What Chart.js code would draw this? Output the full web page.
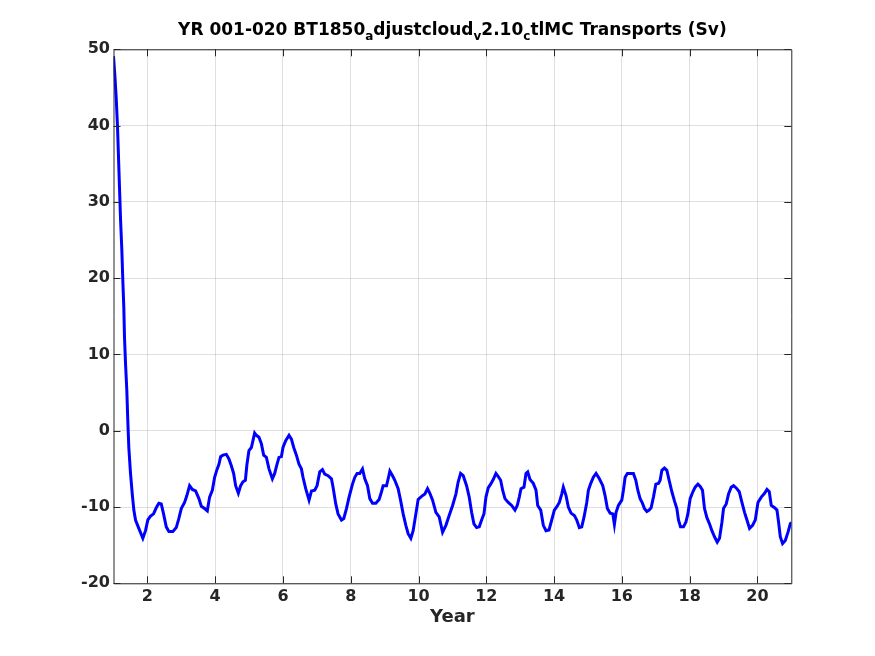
<!DOCTYPE html>
<html>
<head>
<meta charset="utf-8">
<title>MOC transports</title>
<script src="https://cdn.jsdelivr.net/npm/chart.js@4.4.1/dist/chart.umd.min.js"></script>
<style>
  html, body { margin: 0; padding: 0; background: #ffffff; }
  canvas { display: block; }
</style>
</head>
<body>
<canvas id="chart" width="875" height="656"></canvas>
<script>
// Time axis (model years) and transport (Sv)
var years = [
  1.000, 1.040, 1.080, 1.118, 1.148, 1.177, 1.207, 1.245, 1.275, 1.304, 1.325, 1.355, 1.393, 1.422, 1.452, 1.502, 1.552, 1.600, 1.650, 1.747,
  1.866, 1.945, 2.013, 2.093, 2.182, 2.261, 2.338, 2.409, 2.477, 2.557, 2.634, 2.752, 2.852, 2.929,
  3.000, 3.097, 3.165, 3.245, 3.325, 3.422, 3.520, 3.591, 3.688, 3.768, 3.836, 3.916, 3.984,
  4.052, 4.111, 4.161, 4.229, 4.329, 4.406, 4.477, 4.545, 4.604, 4.684, 4.752, 4.820, 4.891, 4.938, 4.997,
  5.068, 5.115, 5.165, 5.216, 5.292, 5.363, 5.431, 5.511, 5.588, 5.688, 5.756, 5.824, 5.883, 5.954,
  6.001, 6.081, 6.179, 6.250, 6.318, 6.397, 6.474, 6.545, 6.592, 6.672, 6.770, 6.841, 6.938,
  7.006, 7.086, 7.165, 7.233, 7.331, 7.431, 7.479, 7.558, 7.626, 7.727, 7.795, 7.874, 7.951,
  8.052, 8.120, 8.188, 8.267, 8.347, 8.415, 8.495, 8.563, 8.643, 8.740, 8.838, 8.908, 8.956,
  9.056, 9.115, 9.154, 9.233, 9.301, 9.399, 9.470, 9.547, 9.626, 9.694, 9.774, 9.842, 9.922, 9.990,
  10.090, 10.188, 10.267, 10.335, 10.415, 10.513, 10.610, 10.710, 10.808, 10.905,
  11.006, 11.103, 11.171, 11.242, 11.319, 11.419, 11.496, 11.567, 11.635, 11.715, 11.792, 11.862, 11.931, 11.990,
  12.057, 12.128, 12.205, 12.285, 12.353, 12.424, 12.483, 12.551, 12.648, 12.749, 12.846, 12.914, 12.973,
  13.024, 13.112, 13.171, 13.222, 13.290, 13.387, 13.467, 13.517, 13.606, 13.683, 13.762, 13.851, 13.931,
  14.008, 14.078, 14.155, 14.226, 14.273, 14.353, 14.421, 14.501, 14.598, 14.669, 14.746, 14.817, 14.885, 14.965,
  15.012, 15.083, 15.160, 15.239, 15.337, 15.437, 15.505, 15.573, 15.653, 15.733, 15.780, 15.830, 15.898, 15.998,
  16.046, 16.096, 16.164, 16.244, 16.341, 16.412, 16.471, 16.539, 16.607, 16.666, 16.737, 16.805, 16.864, 16.932,
  17.003, 17.080, 17.130, 17.180, 17.257, 17.328, 17.396, 17.476, 17.552, 17.623, 17.671, 17.730, 17.818, 17.889, 17.948,
  18.016, 18.096, 18.164, 18.244, 18.312, 18.380, 18.439, 18.510, 18.586, 18.657, 18.734, 18.814, 18.882, 18.953,
  19.000, 19.080, 19.148, 19.227, 19.295, 19.375, 19.464, 19.543, 19.620, 19.691, 19.768, 19.857, 19.937,
  20.016, 20.114, 20.211, 20.282, 20.350, 20.409, 20.507, 20.577, 20.625, 20.675, 20.743, 20.823, 20.903, 20.970, 21.000
];
var transport = [
  49.1, 46.6, 43.6, 39.9, 35.8, 31.9, 27.8, 23.8, 19.7, 16.2, 12.2, 8.8, 5.3, 1.3, -2.2, -5.6, -8.2, -10.4, -11.7, -12.8,
  -14.1, -13.1, -11.7, -11.2, -10.9, -10.1, -9.5, -9.6, -10.9, -12.6, -13.2, -13.2, -12.7, -11.5,
  -10.2, -9.4, -8.5, -7.2, -7.7, -7.9, -8.9, -9.9, -10.2, -10.5, -8.7, -7.8, -6.1,
  -5.1, -4.4, -3.4, -3.2, -3.1, -3.7, -4.6, -5.6, -7.2, -8.2, -7.2, -6.7, -6.5, -4.4, -2.6,
  -2.2, -1.3, -0.3, -0.6, -0.85, -1.7, -3.2, -3.5, -5.0, -6.3, -5.6, -4.4, -3.5, -3.4,
  -2.2, -1.3, -0.6, -1.1, -2.2, -3.2, -4.4, -5.0, -6.1, -7.6, -9.1, -7.9, -7.8,
  -7.2, -5.4, -5.1, -5.7, -5.9, -6.3, -7.4, -9.6, -10.9, -11.7, -11.5, -10.2, -8.7,
  -7.0, -6.1, -5.6, -5.6, -5.0, -6.3, -7.2, -8.9, -9.5, -9.5, -9.0, -8.0, -7.2,
  -7.2, -6.1, -5.3, -5.9, -6.5, -7.6, -9.1, -10.9, -12.4, -13.5, -14.1, -13.1, -10.9, -9.0,
  -8.6, -8.3, -7.6, -8.2, -9.1, -10.7, -11.3, -13.3, -12.4, -11.1,
  -9.8, -8.3, -6.7, -5.6, -5.9, -7.2, -8.7, -10.7, -12.2, -12.7, -12.6, -11.7, -10.9, -8.7,
  -7.5, -7.0, -6.4, -5.6, -6.0, -6.5, -7.8, -8.9, -9.4, -9.8, -10.4, -9.8, -8.7,
  -7.6, -7.4, -5.6, -5.4, -6.4, -6.9, -7.8, -9.8, -10.4, -12.4, -13.1, -13.0, -11.7,
  -10.4, -10.0, -9.4, -8.3, -7.4, -8.5, -10.0, -10.8, -11.1, -11.7, -12.7, -12.6, -11.3, -9.4,
  -7.8, -6.9, -6.1, -5.6, -6.3, -7.2, -8.5, -10.2, -10.8, -10.9, -12.3, -10.7, -9.8, -9.1,
  -7.8, -6.1, -5.6, -5.6, -5.6, -6.5, -7.8, -8.9, -9.5, -10.2, -10.6, -10.4, -10.1, -8.7,
  -7.0, -6.9, -6.5, -5.2, -4.9, -5.2, -6.5, -8.0, -9.2, -10.2, -11.7, -12.6, -12.6, -12.0, -10.9,
  -8.9, -8.0, -7.4, -7.0, -7.3, -7.8, -10.2, -11.4, -12.2, -13.1, -13.9, -14.6, -14.1, -12.0,
  -10.2, -9.6, -8.3, -7.4, -7.2, -7.5, -8.0, -9.4, -10.7, -11.7, -12.8, -12.4, -11.7,
  -9.4, -8.7, -8.2, -7.7, -8.0, -9.8, -10.1, -10.4, -12.0, -13.9, -14.8, -14.4, -13.3, -12.2, -12.0
];
var xTicks = [2, 4, 6, 8, 10, 12, 14, 16, 18, 20];
var yTicks = [-20, -10, 0, 10, 20, 30, 40, 50];
// title pieces: [text, isSubscript]
var titleParts = [
  ['YR 001-020 BT1850', false], ['a', true], ['djustcloud', false], ['v', true],
  ['2.10', false], ['c', true], ['tlMC Transports (Sv)', false]
];

var points = [];
for (var i = 0; i < years.length; i++) {
  points.push({ x: years[i], y: transport[i] });
}

var axisColor = '#262626';
var tickFont = { family: 'DejaVu Sans', size: 16, weight: 'bold' };

// MATLAB style box with inward ticks plus the TeX-like title
var boxPlugin = {
  id: 'box',
  afterDraw: function(chart) {
    var ctx = chart.ctx;
    var a = chart.chartArea;
    var xs = chart.scales.x, ys = chart.scales.y;
    var len = 7;
    ctx.save();
    ctx.strokeStyle = axisColor;
    ctx.lineWidth = 1;
    ctx.beginPath();
    ctx.rect(a.left + 0.5, a.top + 0.5, a.right - a.left, a.bottom - a.top);
    xTicks.forEach(function(v) {
      var px = Math.round(xs.getPixelForValue(v)) + 0.5;
      ctx.moveTo(px, a.bottom); ctx.lineTo(px, a.bottom - len);
      ctx.moveTo(px, a.top); ctx.lineTo(px, a.top + len);
    });
    yTicks.forEach(function(v) {
      var py = Math.round(ys.getPixelForValue(v)) + 0.5;
      ctx.moveTo(a.left, py); ctx.lineTo(a.left + len, py);
      ctx.moveTo(a.right, py); ctx.lineTo(a.right - len, py);
    });
    ctx.stroke();

    // title with subscripts
    var big = 'bold 17px "DejaVu Sans"';
    var small = 'bold 12px "DejaVu Sans"';
    var total = 0;
    titleParts.forEach(function(p) {
      ctx.font = p[1] ? small : big;
      total += ctx.measureText(p[0]).width;
    });
    var x = (a.left + a.right) / 2 - total / 2;
    var base = 35;
    ctx.fillStyle = '#000000';
    ctx.textBaseline = 'alphabetic';
    ctx.textAlign = 'left';
    titleParts.forEach(function(p) {
      ctx.font = p[1] ? small : big;
      ctx.fillText(p[0], x, p[1] ? base + 5 : base);
      x += ctx.measureText(p[0]).width;
    });
    ctx.restore();
  }
};

new Chart(document.getElementById('chart'), {
  type: 'scatter',
  data: {
    datasets: [{
      data: points,
      showLine: true,
      borderColor: '#0000ff',
      borderWidth: 3,
      pointRadius: 0,
      tension: 0
    }]
  },
  options: {
    responsive: false,
    animation: false,
    layout: { padding: { left: 0, right: 83.7, top: 49.3, bottom: 28 } },
    plugins: { legend: { display: false }, tooltip: { enabled: false } },
    scales: {
      x: {
        type: 'linear',
        min: 1,
        max: 21,
        afterBuildTicks: function(scale) {
          scale.ticks = xTicks.map(function(v) { return { value: v }; });
        },
        afterFit: function(scale) { scale.height = 44.7; },
        grid: { color: 'rgba(38,38,38,0.15)', drawTicks: false },
        border: { display: false },
        ticks: { color: axisColor, font: tickFont, padding: 4, maxRotation: 0 },
        title: {
          display: true,
          text: 'Year',
          color: axisColor,
          font: { family: 'DejaVu Sans', size: 18, weight: 'bold' },
          padding: 0
        }
      },
      y: {
        type: 'linear',
        min: -20,
        max: 50,
        afterBuildTicks: function(scale) {
          scale.ticks = yTicks.map(function(v) { return { value: v }; });
        },
        afterFit: function(scale) { scale.width = 113.5; },
        grid: { color: 'rgba(38,38,38,0.15)', drawTicks: false },
        border: { display: false },
        ticks: { color: axisColor, font: tickFont, padding: 3.5 }
      }
    }
  },
  plugins: [boxPlugin]
});
</script>
</body>
</html>
